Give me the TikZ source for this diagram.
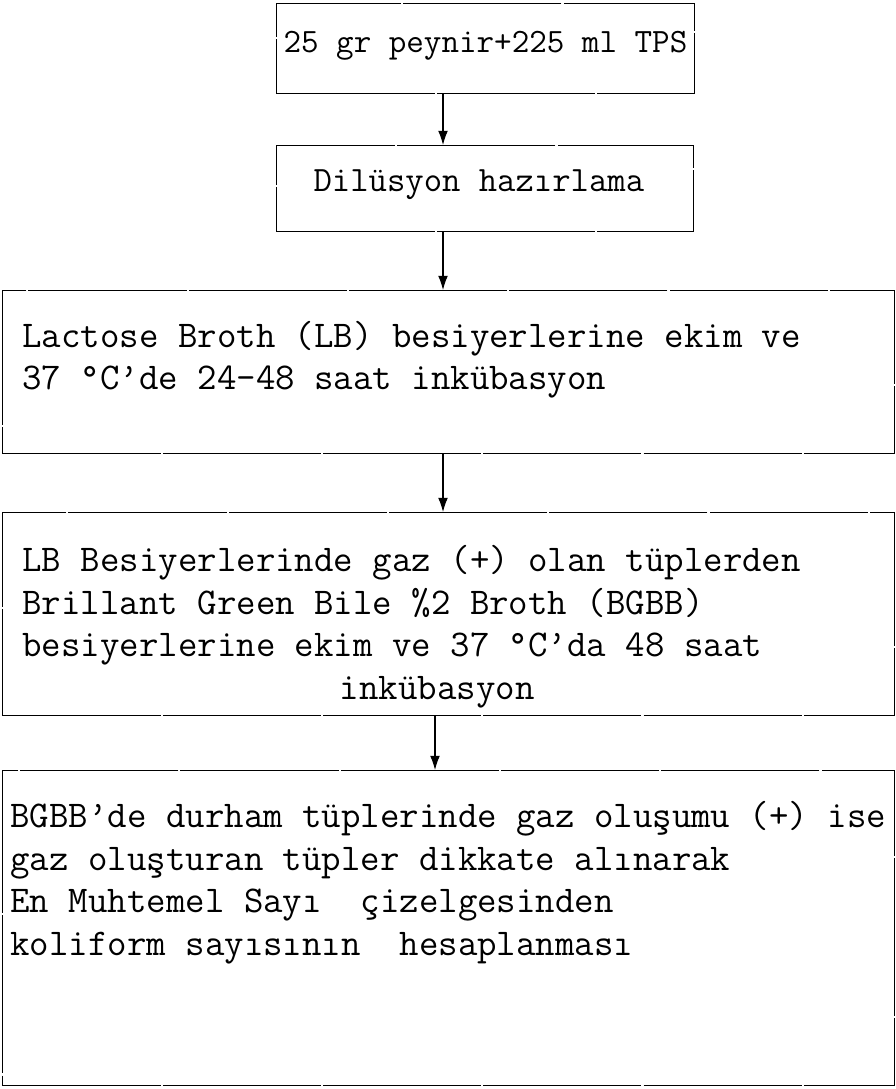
\documentclass[tikz,border=0pt]{standalone}
\usepackage{tikz}
\usetikzlibrary{arrows.meta}

\begin{document}
\begin{tikzpicture}[line width=0.6pt,
  frame/.style={draw, dash pattern=on 90pt off 1.2pt, inner sep=0pt, anchor=north west},
  steptext/.style={anchor=west, align=left, inner sep=0pt, font=\ttfamily\fontsize{21.5}{24.2}\selectfont},
  headtext/.style={steptext, font=\ttfamily\fontsize{19.4}{24.2}\selectfont},
  flow/.style={-{Latex[length=8pt,width=5.5pt]}}]

  \useasboundingbox (0,0) rectangle (17.92,-21.78);

  \coordinate (axis)  at (8.86,0);
  \coordinate (axisb) at (8.70,0);

  \node [frame, minimum width=8.36cm, minimum height=1.80cm] (cheese) at (5.52,-0.06) {};
  \node [frame, minimum width=8.34cm, minimum height=1.72cm] (dilute) at (5.52,-2.90) {};
  \node [frame, minimum width=17.84cm, minimum height=3.26cm] (lb)    at (0.04,-5.80) {};
  \node [frame, minimum width=17.84cm, minimum height=4.06cm] (bgbb)  at (0.04,-10.24) {};
  \node [frame, minimum width=17.84cm, minimum height=6.30cm] (count) at (0.04,-15.40) {};

  \node [headtext] (cheeseText) at (5.66,-0.92) {25 gr peynir+225 ml TPS};
  \node [headtext, font=\ttfamily\fontsize{20.3}{24.2}\selectfont] (diluteText) at (6.26,-3.70) {Dilüsyon hazırlama};
  \node [steptext] (lbText) at (0.44,-7.19)
    {Lactose Broth (LB) besiyerlerine ekim ve\\
     37 °C’de 24-48 saat inkübasyon};
  \node [steptext] (bgbbText) at (0.44,-12.53)
    {LB Besiyerlerinde gaz (+) olan tüplerden\\
     Brillant Green Bile \%2 Broth (BGBB)\\
     besiyerlerine ekim ve 37 °C’da 48 saat\\
     \hspace*{8.4em}inkübasyon};
  \node [steptext] (countText) at (0.20,-17.65)
    {BGBB’de durham tüplerinde gaz oluşumu (+) ise\\
     gaz oluşturan tüpler dikkate alınarak\\
     En Muhtemel Sayı~~çizelgesinden\\
     koliform sayısının~~hesaplanması};

  \path
    (cheese.south -| axis) edge [flow] (dilute.north -| axis)
    (dilute.south -| axis) edge [flow] (lb.north -| axis)
    (lb.south -| axis)     edge [flow] (bgbb.north -| axis)
    (bgbb.south -| axisb)  edge [flow] (count.north -| axisb)
  ;

\end{tikzpicture}
\end{document}
